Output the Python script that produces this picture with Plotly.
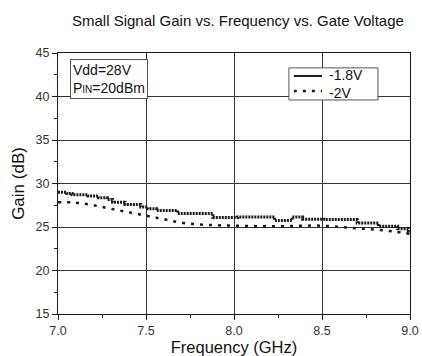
import plotly.graph_objects as go

# Small-signal gain (dB) vs frequency (GHz) at two gate voltages
freq_a = [7.00, 7.05, 7.08, 7.17, 7.23, 7.28, 7.31, 7.38, 7.47, 7.51, 7.56,
          7.68, 7.88, 8.02, 8.23, 8.33, 8.39, 8.52, 8.70, 8.82, 8.93, 8.99, 9.00]
gain_a = [29.0, 28.85, 28.7, 28.55, 28.35, 28.15, 27.85, 27.6, 27.3, 27.1, 26.9,
          26.55, 26.1, 26.15, 25.75, 26.15, 25.9, 25.85, 25.45, 25.1, 24.8, 24.45, 24.45]

freq_b = [7.0, 7.1, 7.2, 7.3, 7.4, 7.5, 7.6, 7.7, 7.8, 7.9, 8.0,
          8.1, 8.2, 8.3, 8.4, 8.5, 8.6, 8.7, 8.8, 8.9, 9.0]
gain_b = [27.85, 27.8, 27.5, 27.1, 26.7, 26.3, 25.9, 25.5, 25.3, 25.2, 25.15,
          25.1, 25.1, 25.1, 25.15, 25.15, 25.0, 24.85, 24.7, 24.5, 24.2]

label_a = "-1.8V"
label_b = "-2V"
x_ticks = [7.0, 7.5, 8.0, 8.5, 9.0]
y_ticks = [15, 20, 25, 30, 35, 40, 45]

FONT = "Liberation Sans, Arial, sans-serif"
INK = "#1a1a1a"
TXT = "#111111"
BOX = "#555555"

STYLE_A = dict(color=INK, width=3, dash="2px,1px")
STYLE_B = dict(color=INK, width=2.5, dash="3px,6px")

fig = go.Figure()

# -1.8V curve: stepped trace of dense square-ish points
fig.add_trace(go.Scatter(
    x=freq_a, y=gain_a, mode="lines", line_shape="hv", line=STYLE_A,
    name=label_a, showlegend=False, hoverinfo="skip"))

# -2V curve: sparse dotted line
fig.add_trace(go.Scatter(
    x=freq_b, y=gain_b, mode="lines", line=dict(STYLE_B, shape="spline"),
    name=label_b, showlegend=False, hoverinfo="skip"))

axis_common = dict(
    showline=True, linecolor=INK, linewidth=1, mirror=True,
    showgrid=True, gridcolor="#333333", gridwidth=1,
    ticks="outside", ticklen=5, tickcolor=INK,
    tickfont=dict(family=FONT, size=12.5, color="#333333"),
    zeroline=False, automargin=False,
)

fig.update_xaxes(
    range=[7.0, 9.0], tickvals=x_ticks, ticktext=[f"{v:.1f}" for v in x_ticks],
    minor=dict(dtick=0.25, ticks="outside", ticklen=3, tickcolor=INK, showgrid=False),
    title=dict(text="Frequency (GHz)", font=dict(family=FONT, size=16.5, color=TXT),
               standoff=6),
    **axis_common)
fig.update_yaxes(
    range=[15, 45], tickvals=y_ticks,
    minor=dict(dtick=2.5, ticks="outside", ticklen=3, tickcolor=INK, showgrid=False),
    title=dict(text="Gain (dB)", font=dict(family=FONT, size=17, color=TXT),
               standoff=6),
    **axis_common)

# Bias-condition box
fig.add_annotation(
    xref="paper", yref="paper", x=0.034, y=0.977, xanchor="left", yanchor="top",
    text="Vdd=28V<br>P<span style='font-size:10px'>IN</span>=20dBm",
    showarrow=False, align="left",
    font=dict(family=FONT, size=14, color=TXT),
    bordercolor=BOX, borderwidth=1, borderpad=2, bgcolor="white")

# Legend box
fig.add_shape(type="rect", xref="paper", yref="paper",
              x0=0.656, x1=0.909, y0=0.820, y1=0.943,
              line=dict(color=BOX, width=1), fillcolor="white", layer="above")
for style, yy in [(dict(color=INK, width=2), 0.912), (STYLE_B, 0.854)]:
    fig.add_shape(type="line", xref="paper", yref="paper",
                  x0=0.670, x1=0.750, y0=yy, y1=yy, line=style, layer="above")
fig.add_annotation(xref="paper", yref="paper", x=0.763, y=0.883,
                   xanchor="left", yanchor="middle",
                   text=f"{label_a}<br>{label_b}", showarrow=False, align="left",
                   font=dict(family=FONT, size=14, color=TXT))

fig.update_layout(
    width=422, height=356,
    margin=dict(l=58, r=12, t=53, b=42),
    paper_bgcolor="white", plot_bgcolor="white",
    showlegend=False,
    title=dict(text="Small Signal Gain vs. Frequency vs. Gate Voltage",
               x=72 / 422, xanchor="left", y=1 - 21 / 356, yanchor="middle",
               font=dict(family=FONT, size=15, color=TXT)),
)

fig.write_html("out.html")
